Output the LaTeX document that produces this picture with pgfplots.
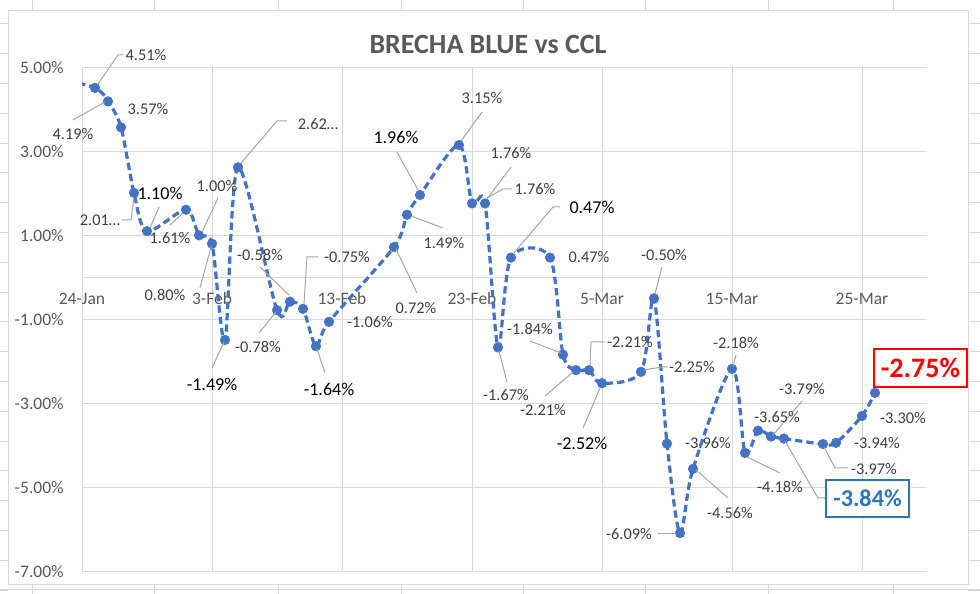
\documentclass[border=0pt]{standalone}
\usepackage{fontspec}
\setmainfont{Carlito}
\usepackage{pgfplots}
\usepackage{pgfplotstable}
\pgfplotsset{compat=1.18}
\definecolor{gridc}{HTML}{D9D9D9}
\definecolor{tickc}{HTML}{595959}
\definecolor{lblc}{HTML}{404040}
\definecolor{leadc}{HTML}{A6A6A6}
\definecolor{linec}{HTML}{4472C4}
\definecolor{boxblue}{HTML}{2E75B6}
\definecolor{sheetc}{HTML}{D6D6D6}
\pgfplotstableread{
d v
-2 4.75
1 4.51
2 4.19
3 3.57
4 2.01
5 1.10
8 1.61
9 1.00
10 0.80
11 -1.49
12 2.62
15 -0.78
16 -0.58
17 -0.75
18 -1.64
19 -1.06
24 0.72
25 1.49
26 1.96
29 3.15
30 1.76
31 1.76
32 -1.67
33 0.47
36 0.47
37 -1.84
38 -2.21
39 -2.21
40 -2.52
43 -2.25
44 -0.50
45 -3.96
46 -6.09
47 -4.56
50 -2.18
51 -4.18
52 -3.65
53 -3.79
54 -3.84
57 -3.97
58 -3.94
60 -3.30
61 -2.75
}\brecha
\begin{document}
\begin{tikzpicture}
\path[use as bounding box] (0,0) rectangle (735bp,445.5bp);
\begin{scope}[x=0.75bp,y=-0.75bp,yshift=445.5bp]
  \foreach \c in {32,154,278,401,523,645,768,893} {
    \draw[sheetc, line width=0.75bp] (\c,0) -- (\c,11);
    \draw[sheetc, line width=0.75bp] (\c,585) -- (\c,594);
  }
  \foreach \r in {0,...,19} {
    \draw[sheetc, line width=0.75bp] (0,{24+29.8*\r}) -- (8,{24+29.8*\r});
    \draw[sheetc, line width=0.75bp] (968,{24+29.8*\r}) -- (980,{24+29.8*\r});
  }
  \draw[sheetc, line width=0.75bp] (0,590) -- (980,590);
  \draw[gridc, line width=0.75bp, fill=white] (8,11) rectangle (968,585);
\end{scope}
\begin{axis}[
  at={(61.5bp,17.0bp)}, anchor=south west,
  width=633.75bp, height=378bp, scale only axis,
  xmin=0, xmax=65, ymin=-7, ymax=5,
  axis line style={draw=none},
  xtick={0,10,...,60},
  xticklabels={24-Jan,3-Feb,13-Feb,23-Feb,5-Mar,15-Mar,25-Mar},
  ytick={-7,-5,...,5},
  yticklabels={-7.00\%,-5.00\%,-3.00\%,-1.00\%,1.00\%,3.00\%,5.00\%},
  extra y ticks={0}, extra y tick labels={},
  extra y tick style={grid=major},
  grid=major,
  major grid style={draw=gridc, line width=0.75bp},
  major tick length=0pt,
  tick label style={font=\fontsize{13.2}{15}\selectfont, text=tickc},
  yticklabel style={anchor=east, inner sep=0pt, xshift=-13.5bp},
  xticklabel style={anchor=center, inner sep=0pt, yshift=204.6bp},
  clip=true,
]
\addplot[linec, line width=2.4bp, dash pattern=on 5.5bp off 3bp, smooth, tension=0.5, no markers] table[x=d,y=v] {\brecha};
\addplot[only marks, restrict x to domain=0:65, mark=*, mark size=3.6bp, mark options={solid, fill=linec, draw=linec}] table[x=d,y=v] {\brecha};
\end{axis}
\begin{scope}[x=0.75bp,y=-0.75bp,yshift=445.5bp,
  lead/.style={leadc, line width=0.75bp},
  s/.style={text=lblc, font=\fontsize{12.3}{14}\selectfont, inner sep=0pt},
  b/.style={text=black, font=\fontsize{13.6}{16}\selectfont, inner sep=0pt}]
  \node[font=\bfseries\fontsize{21}{25}\selectfont, text=tickc] at (488,44) {BRECHA BLUE vs CCL};
  % leader lines
  \draw[lead] (123,55) -- (118,55) -- (98,84);
  \draw[lead] (73,120) -- (105,102);
  \draw[lead] (122,220) -- (131,220) -- (134,197);
  \draw[lead] (159,207) -- (150,228);
  \draw[lead] (170,225) -- (183,213);
  \draw[lead] (218,198) -- (202,232);
  \draw[lead] (200,288) -- (211,247);
  \draw[lead] (287,121) -- (277,121) -- (241,163);
  \draw[lead] (260,267) -- (289,295);
  \draw[lead] (318,257) -- (307,257) -- (304,304);
  \draw[lead] (259,333) -- (276,312);
  \draw[lead] (212,368) -- (224,342);
  \draw[lead] (325,373) -- (317,349);
  \draw[lead] (417,293) -- (396,249);
  \draw[lead] (443,228) -- (411,216);
  \draw[lead] (397,152) -- (418,190);
  \draw[lead] (482,112) -- (461,141);
  \draw[lead] (511,167) -- (487,199);
  \draw[lead] (512,189) -- (503,189) -- (487,198);
  \draw[lead] (560,207) -- (553,207) -- (513,254);
  \draw[lead] (662,267) -- (655,294);
  \draw[lead] (507,382) -- (499,351);
  \draw[lead] (530,341) -- (561,353);
  \draw[lead] (545,396) -- (573,372);
  \draw[lead] (605,342) -- (591,342) -- (590,366);
  \draw[lead] (583,428) -- (600,388);
  \draw[lead] (668,367) -- (662,367) -- (644,370);
  \draw[lead] (658,534) -- (676,534);
  \draw[lead] (728,498) -- (696,470);
  \draw[lead] (736,355) -- (733,366);
  \draw[lead] (780,473) -- (747,457);
  \draw[lead] (802,401) -- (773,435);
  \draw[lead] (785,441) -- (818,498) -- (826,498);
  \draw[lead] (848,468) -- (835,468) -- (824,447);
  % labels
  \node[s] at (146,55) {4.51\%};
  \node[s] at (73,134) {4.19\%};
  \node[s] at (148,109) {3.57\%};
  \node[s] at (100,220) {2.01…};
  \node[b] at (160,193) {1.10\%};
  \node[s] at (170,238) {1.61\%};
  \node[s] at (217,186) {1.00\%};
  \node[s] at (165,295) {0.80\%};
  \node[s] at (318,124) {2.62…};
  \node[s] at (260,255) {-0.58\%};
  \node[s] at (347,257) {-0.75\%};
  \node[s] at (258,347) {-0.78\%};
  \node[b] at (212,384) {-1.49\%};
  \node[b] at (329,389) {-1.64\%};
  \node[s] at (370,322) {-1.06\%};
  \node[s] at (416,308) {0.72\%};
  \node[s] at (444,243) {1.49\%};
  \node[b] at (396,137) {1.96\%};
  \node[s] at (482,98) {3.15\%};
  \node[s] at (511,153) {1.76\%};
  \node[s] at (535,189) {1.76\%};
  \node[b] at (592,207) {0.47\%};
  \node[s] at (589,257) {0.47\%};
  \node[s] at (664,255) {-0.50\%};
  \node[s] at (506,395) {-1.67\%};
  \node[s] at (530,329) {-1.84\%};
  \node[s] at (543,410) {-2.21\%};
  \node[s] at (630,342) {-2.21\%};
  \node[b] at (582,443) {-2.52\%};
  \node[s] at (692,367) {-2.25\%};
  \node[s] at (708,443) {-3.96\%};
  \node[s] at (629,534) {-6.09\%};
  \node[s] at (730,513) {-4.56\%};
  \node[s] at (736,343) {-2.18\%};
  \node[s] at (780,487) {-4.18\%};
  \node[s] at (777,417) {-3.65\%};
  \node[s] at (802,389) {-3.79\%};
  \node[s] at (874,469) {-3.97\%};
  \node[s] at (877,443) {-3.94\%};
  \node[s] at (903,418) {-3.30\%};
  \node[draw=boxblue, fill=white, line width=0.9bp, text=boxblue, font=\bfseries\fontsize{18.2}{21}\selectfont, minimum width=62.25bp, minimum height=27.75bp, inner sep=0pt] at (867.5,498.5) {-3.84\%};
  \node[draw=red, fill=white, line width=0.9bp, text=red, font=\bfseries\fontsize{21.2}{25}\selectfont, minimum width=69.75bp, minimum height=28.5bp, inner sep=0pt] at (920.5,368) {-2.75\%};
\end{scope}
\end{tikzpicture}
\end{document}
